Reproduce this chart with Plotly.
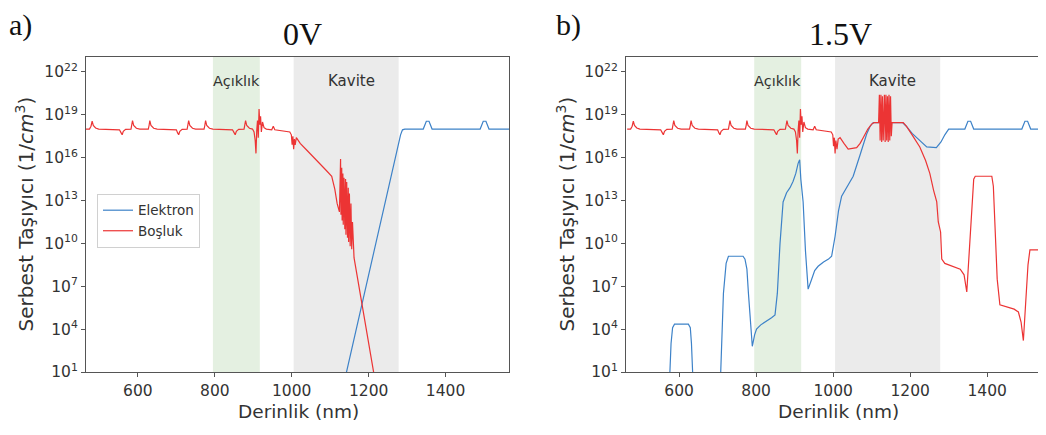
import plotly.graph_objects as go

# ---------------- data (depth in nm, log10 of carrier density in 1/cm^3) -------------
# shared hole profile in the mirror region (both biases)
hole_common_x = [465, 474, 478, 481, 484, 490, 498, 552, 556, 559, 562, 568, 582, 584, 586, 589,
                 596, 605, 627, 629, 631, 634, 641, 650, 700, 703, 706, 709, 715, 728, 730, 732,
                 735, 742, 750, 772, 774, 776, 779, 786, 795, 846, 850, 853, 856, 862, 876, 878,
                 880, 883, 890, 898, 902, 905, 907, 909, 911, 913, 915, 917, 919, 921, 924, 928,
                 934, 948, 952, 956, 970, 985, 995]
hole_common_e = [18.0, 18.0, 18.2, 18.55, 18.25, 18.08, 18.0, 17.95, 17.75, 17.6, 17.85, 17.98,
                 18.0, 18.25, 18.6, 18.25, 18.06, 18.0, 18.0, 18.25, 18.6, 18.25, 18.06, 18.0,
                 17.95, 17.75, 17.6, 17.85, 17.98, 18.0, 18.25, 18.6, 18.25, 18.06, 18.0, 18.0,
                 18.25, 18.6, 18.25, 18.06, 18.0, 17.95, 17.75, 17.6, 17.85, 17.98, 18.0, 18.25,
                 18.6, 18.25, 18.06, 18.0, 17.8, 17.2, 16.3, 17.9, 18.6, 17.4, 19.4, 18.3, 18.9,
                 17.8, 18.5, 18.1, 18.0, 17.95, 18.2, 17.95, 17.9, 17.85, 17.8]

# 0 V
hole_0v_x = [999, 1001, 1003, 1005, 1007, 1009, 1012, 1016, 1022, 1040, 1055, 1075, 1090, 1104,
             1112, 1118, 1124, 1127, 1128, 1130, 1131, 1133, 1134, 1136, 1138, 1140, 1141, 1143,
             1145, 1147, 1148, 1150, 1152, 1154, 1156, 1158, 1160, 1162, 1218]
hole_0v_e = [17.6, 16.9, 17.5, 16.6, 17.3, 16.9, 17.4, 17.2, 17.0, 16.5, 16.1, 15.5, 15.1, 14.7,
             13.8, 12.8, 12.2, 15.9, 12.0, 15.3, 11.6, 14.9, 11.3, 14.6, 11.0, 14.5, 10.6, 14.3,
             10.4, 13.9, 10.1, 13.5, 9.8, 12.8, 9.6, 11.5, 9.2, 9.0, 0.2]
elec_0v_x = [1134, 1283, 1288, 1294, 1342, 1347, 1350, 1357, 1360, 1365, 1490, 1495, 1498, 1505,
             1508, 1513, 1570]
elec_0v_e = [0.0, 17.6, 17.95, 18.0, 18.0, 18.35, 18.55, 18.55, 18.35, 18.0, 18.0, 18.35, 18.55,
             18.55, 18.35, 18.0, 18.0]

# 1.5 V
hole_15v_x = [999, 1001, 1003, 1005, 1007, 1010, 1013, 1018, 1028, 1039, 1061, 1070, 1078, 1090,
              1100, 1106, 1118, 1120, 1122, 1124, 1126, 1128, 1130, 1133, 1135, 1137, 1139, 1141,
              1143, 1145, 1147, 1149, 1151, 1153, 1182, 1190, 1205, 1225, 1240, 1251, 1261, 1269,
              1273, 1279, 1282, 1290, 1330, 1340, 1347, 1352, 1360, 1365, 1369, 1412, 1416, 1420,
              1426, 1433, 1470, 1481, 1488, 1494, 1500, 1506, 1511, 1570]
hole_15v_e = [17.6, 16.8, 17.4, 16.3, 17.2, 16.6, 17.3, 17.4, 17.0, 16.6, 16.7, 17.0, 17.4, 18.0,
              18.35, 18.45, 18.45, 20.4, 17.2, 20.4, 17.1, 20.3, 17.2, 20.4, 17.1, 20.4, 17.2, 20.3,
              17.1, 20.4, 17.2, 20.3, 17.5, 18.45, 18.45, 18.2, 17.6, 16.75, 15.8, 14.9, 13.7, 12.9,
              11.5, 10.8, 8.9, 8.6, 8.2, 7.8, 6.6, 9.0, 12.2, 14.5, 14.7, 14.7, 14.0, 11.0,
              7.5, 5.7, 5.4, 5.2, 4.5, 3.2, 5.5, 8.5, 9.55, 9.55]
elec_15v_x = [570, 576, 579, 583, 588, 624, 629, 632, 635, 640, 703, 708, 715, 722, 728, 766, 771,
              776, 780, 786, 790, 796, 801, 812, 827, 840, 849, 855, 862, 870, 879, 888, 896, 903,
              909, 913, 916, 922, 928, 935, 943, 952, 961, 975, 988, 996, 1005, 1014, 1022, 1036,
              1052, 1070, 1087, 1096, 1104, 1180, 1190, 1205, 1225, 1243, 1268, 1280, 1290, 1300,
              1342, 1347, 1350, 1357, 1360, 1365, 1490, 1495, 1498, 1505, 1508, 1513, 1570]
elec_15v_e = [0.0, 1.0, 3.0, 4.1, 4.35, 4.35, 4.1, 3.0, 1.0, 0.0, 0.0, 1.0, 6.5, 8.6, 9.1, 9.1,
              8.9, 8.2, 6.5, 4.0, 2.8, 3.6, 4.0, 4.3, 4.55, 4.8, 5.0, 6.5, 10.0, 12.9, 13.55, 13.9,
              14.35, 14.9, 15.6, 15.85, 14.5, 12.9, 9.5, 6.8, 7.4, 8.1, 8.4, 8.7, 8.9, 9.1, 10.5,
              12.3, 13.3, 14.0, 14.7, 16.2, 17.65, 18.2, 18.45, 18.45, 18.2, 17.7, 17.2, 16.75,
              16.7, 17.1, 17.6, 18.0, 18.0, 18.35, 18.55, 18.55, 18.35, 18.0, 18.0, 18.35, 18.55,
              18.55, 18.35, 18.0, 18.0]

aperture = [795, 917]
cavity = [1005, 1278]
x_ticks = [600, 800, 1000, 1200, 1400]
y_tick_exp = [1, 4, 7, 10, 13, 16, 19, 22]
series_names = ["Elektron", "Boşluk"]
panel_titles = ["0V", "1.5V"]
panel_letters = ["a)", "b)"]

BLUE = "#3d82c8"
RED = "#ec3434"
FONT = "DejaVu Sans"
SERIF = "Liberation Serif"

# the page body has an 8px margin on every side: keep the whole page at 1046x435
OFF = 8
W = 1046 - 2 * OFF
H = 435 - 2 * OFF


def px(p):
    return (p - OFF) / W


def py(p):
    return 1 - (p - OFF) / H


def pw(e):
    return [10.0 ** v for v in e]


fig = go.Figure()

panels = [
    ("x", "y", elec_0v_x, elec_0v_e, hole_common_x + hole_0v_x, hole_common_e + hole_0v_e, True),
    ("x2", "y2", elec_15v_x, elec_15v_e, hole_common_x + hole_15v_x, hole_common_e + hole_15v_e, False),
]
for xa, ya, ex, ee, hx, he, show in panels:
    fig.add_trace(go.Scatter(x=ex, y=pw(ee), mode="lines", name=series_names[0],
                             line=dict(color=BLUE, width=1.2), xaxis=xa, yaxis=ya,
                             showlegend=show))
    fig.add_trace(go.Scatter(x=hx, y=pw(he), mode="lines", name=series_names[1],
                             line=dict(color=RED, width=1.2), xaxis=xa, yaxis=ya,
                             showlegend=show))

shapes = []
for xa, ya in [("x", "y"), ("x2", "y2")]:
    shapes.append(dict(type="rect", xref=xa, yref=ya + " domain", x0=aperture[0], x1=aperture[1],
                       y0=0, y1=1, fillcolor="#e4f0e1", line=dict(width=0), layer="below"))
    shapes.append(dict(type="rect", xref=xa, yref=ya + " domain", x0=cavity[0], x1=cavity[1],
                       y0=0, y1=1, fillcolor="#ebebeb", line=dict(width=0), layer="below"))

tick_text = ["10<sup>%d</sup>" % e for e in y_tick_exp]
tick_vals = [10.0 ** e for e in y_tick_exp]

axis_common = dict(showgrid=False, zeroline=False, showline=True, linecolor="#555", linewidth=1,
                   ticks="outside", ticklen=4, tickcolor="#555",
                   tickfont=dict(family=FONT, size=15.5, color="#333"))

y_dom = [py(380), py(58)]
x2_end = 462 + (1038 - 626) * 2.597

fig.update_layout(
    width=W, height=H,
    margin=dict(l=0, r=0, t=0, b=0),
    paper_bgcolor="white", plot_bgcolor="white",
    shapes=shapes,
    xaxis=dict(domain=[px(86), px(509)], range=[465, 1565], tickvals=x_ticks, mirror=True,
               anchor="y", **axis_common),
    yaxis=dict(domain=y_dom, type="log", range=[1, 23.05], tickvals=tick_vals, ticktext=tick_text,
               mirror=True, anchor="x", **axis_common),
    xaxis2=dict(domain=[px(626), 1.0], range=[462, x2_end], tickvals=x_ticks, mirror=True,
                anchor="y2", **axis_common),
    yaxis2=dict(domain=y_dom, type="log", range=[1, 23.05], tickvals=tick_vals, ticktext=tick_text,
                mirror=False, anchor="x2", **axis_common),
    legend=dict(x=px(97), y=py(198), xanchor="left", yanchor="top",
                bgcolor="rgba(255,255,255,0.85)", bordercolor="#d0d0d0", borderwidth=1,
                font=dict(family=FONT, size=13.5, color="#333"), tracegroupgap=0),
)

ann = []
ytitle = "Serbest Taşıyıcı (1/<i>cm</i><sup>3</sup>)"
for i, (xa, ya, cx, ycx, tx, lx) in enumerate([("x", "y", 298, 25, 302, 7),
                                                ("x2", "y2", 838, 566, 840, 554)]):
    ann.append(dict(text=ytitle, xref="paper", yref="paper", x=px(ycx), y=py(219),
                    textangle=-90, showarrow=False, xanchor="center", yanchor="middle",
                    font=dict(family=FONT, size=20, color="#333")))
    ann.append(dict(text="Derinlik (nm)", xref="paper", yref="paper", x=px(cx), y=py(420),
                    showarrow=False, xanchor="center", yanchor="middle",
                    font=dict(family=FONT, size=18.5, color="#333")))
    ann.append(dict(text=panel_titles[i], xref="paper", yref="paper", x=px(tx), y=py(35),
                    showarrow=False, xanchor="center", yanchor="middle",
                    font=dict(family=SERIF, size=32, color="#111")))
    ann.append(dict(text=panel_letters[i], xref="paper", yref="paper", x=px(lx), y=py(25),
                    showarrow=False, xanchor="left", yanchor="middle",
                    font=dict(family=SERIF, size=30, color="#111")))
    ann.append(dict(text="Açıklık", xref=xa, yref=ya, x=856, y=21.4, showarrow=False,
                    xanchor="center", yanchor="middle",
                    font=dict(family=FONT, size=14.5, color="#333")))
    ann.append(dict(text="Kavite", xref=xa, yref=ya, x=1155, y=21.4, showarrow=False,
                    xanchor="center", yanchor="middle",
                    font=dict(family=FONT, size=15, color="#333")))
fig.update_layout(annotations=ann)

fig.write_html("out.html")
